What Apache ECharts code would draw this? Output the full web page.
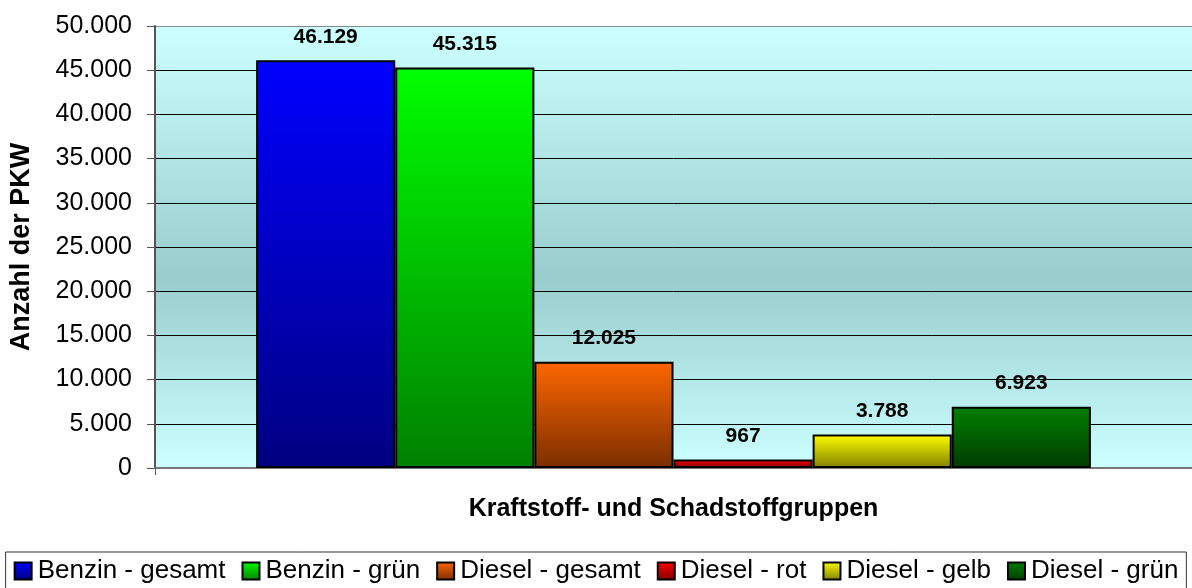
<!DOCTYPE html>
<html>
<head>
<meta charset="utf-8">
<script src="https://cdn.jsdelivr.net/npm/echarts@6/dist/echarts.min.js"></script>
<style>
  html, body { margin: 0; padding: 0; background: #fff; }
  #chart { width: 1192px; height: 588px; }
</style>
</head>
<body>
<div id="chart"></div>
<script>
// Daten
var kategorien = [''];
var serienNamen = ['Benzin - gesamt', 'Benzin - grün', 'Diesel - gesamt', 'Diesel - rot', 'Diesel - gelb', 'Diesel - grün'];
var werte = [46129, 45315, 12025, 967, 3788, 6923];
// Farbverlauf je Serie: oben / unten
var farbeOben = ['#0000ff', '#00ff00', '#ff6600', '#ff0000', '#ffff00', '#008000'];
var farbeUnten = ['#000080', '#008000', '#7a2e00', '#800000', '#808000', '#003c00'];

function punkte(v) {
    return String(v).replace(/\B(?=(\d{3})+(?!\d))/g, '.');
}

var myChart = echarts.init(document.getElementById('chart'));

var series = [];
for (var i = 0; i < serienNamen.length; i++) {
    series.push({
        name: serienNamen[i],
        type: 'bar',
        barGap: 0,
        barCategoryGap: '19.5%',
        data: [werte[i]],
        itemStyle: {
            color: new echarts.graphic.LinearGradient(0, 0, 0, 1, [
                {offset: 0, color: farbeOben[i]},
                {offset: 1, color: farbeUnten[i]}
            ]),
            borderColor: '#000',
            borderWidth: 2
        },
        label: {
            show: true,
            position: 'top',
            distance: 13,
            fontFamily: 'Liberation Sans',
            fontWeight: 'bold',
            fontSize: 21,
            color: '#000',
            formatter: function (p) { return punkte(p.value); }
        }
    });
}

// letzte Linie (oben) grau wie der Rahmen
var splitFarben = [];
for (var k = 0; k < 10; k++) splitFarben.push('#000');
splitFarben.push('#888');

var option = {
    animation: false,
    textStyle: {fontFamily: 'Liberation Sans'},
    grid: {
        left: 153, right: 0, top: 26, bottom: 120,
        show: true,
        borderWidth: 0,
        backgroundColor: new echarts.graphic.LinearGradient(0, 0, 0, 1, [
            {offset: 0, color: '#ccffff'},
            {offset: 0.57, color: '#99cccc'},
            {offset: 1, color: '#ccffff'}
        ])
    },
    legend: {
        data: serienNamen,
        left: 'center',
        top: 552,
        padding: [6, 8, 8, 8],
        itemGap: 16,
        itemWidth: 17,
        itemHeight: 17,
        borderColor: '#333',
        borderWidth: 1,
        icon: 'rect',
        textStyle: {fontFamily: 'Liberation Sans', fontSize: 26, color: '#000', padding: [0, 0, 0, 1]}
    },
    xAxis: {
        type: 'category',
        data: kategorien,
        name: 'Kraftstoff- und Schadstoffgruppen',
        nameLocation: 'middle',
        nameGap: 29,
        nameTextStyle: {fontFamily: 'Liberation Sans', fontWeight: 'bold', fontSize: 25, color: '#000'},
        axisLine: {lineStyle: {color: '#777', width: 2}},
        axisTick: {show: true, length: 7, lineStyle: {color: '#555'}},
        axisLabel: {show: false}
    },
    yAxis: {
        type: 'value',
        min: 0,
        max: 50000,
        interval: 5000,
        name: 'Anzahl der PKW',
        nameLocation: 'middle',
        nameGap: 120,
        nameRotate: 90,
        nameTextStyle: {fontFamily: 'Liberation Sans', fontWeight: 'bold', fontSize: 27, color: '#000'},
        axisLine: {show: true, lineStyle: {color: '#555', width: 2}},
        axisTick: {show: true, length: 8, lineStyle: {color: '#555'}},
        axisLabel: {
            margin: 23,
            fontFamily: 'Liberation Sans',
            fontSize: 25,
            color: '#000',
            formatter: function (v) { return punkte(v); }
        },
        splitLine: {show: true, lineStyle: {color: splitFarben, width: 1}}
    },
    series: series
};

myChart.setOption(option);
</script>
</body>
</html>
